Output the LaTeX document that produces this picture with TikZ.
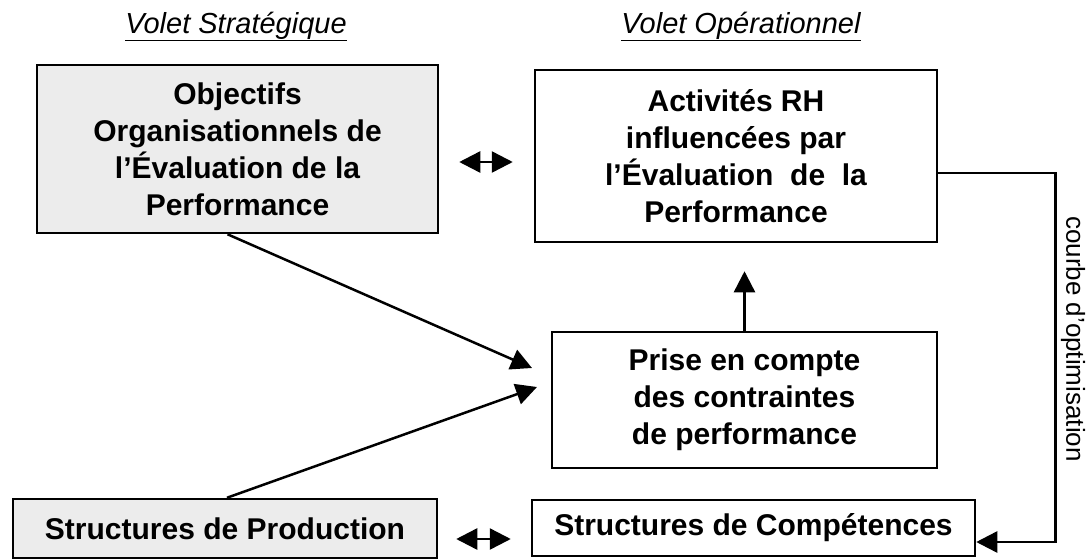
\documentclass[tikz,border=0pt]{standalone}
\usepackage{fontspec}
\setmainfont{Liberation Sans}
\usetikzlibrary{arrows.meta}
\tikzset{
  boite/.style={draw, line width=2.5pt, align=center, inner sep=0pt,
    font=\bfseries\fontsize{30}{37}\selectfont},
  grise/.style={boite, fill=gray!15},
  titre/.style={anchor=base, font=\itshape\fontsize{29}{34}\selectfont},
  fleche/.style={line width=2.5pt, -{Triangle[length=21pt,width=21pt]}},
  deuxsens/.style={line width=2.5pt,
    {Triangle[length=21pt,width=21pt]}-{Triangle[length=21pt,width=21pt]}},
}
\begin{document}
\begin{tikzpicture}[x=1pt,y=-1pt]
      \useasboundingbox (0,0) rectangle (1088,560);
      \draw
        (236,33) node[titre] (vs){\underline{Volet Stratégique}}
        (741,33) node[titre] (vo){\underline{Volet Opérationnel}}
        (237.5,149) node[grise, minimum width=401, minimum height=168] (obj)
          {Objectifs\\Organisationnels de\\l'Évaluation de la\\Performance}
        (736,156) node[boite, minimum width=402, minimum height=172] (act)
          {Activités RH\\influencées par\\l'Évaluation~ de~ la\\Performance}
        (744.5,400) node[boite, minimum width=385, minimum height=136] (prise)
          {Prise en compte\\des contraintes\\de performance}
        (225,528.5) node[grise, minimum width=424, minimum height=59] (prod)
          {Structures de Production}
        (753.5,528) node[boite, minimum width=443, minimum height=56] (comp)
          {Structures de Compétences}
        (1073,339) node[rotate=-90, inner sep=0pt, font=\fontsize{26}{30}\selectfont] (courbe)
          {courbe d'optimisation};
      \coordinate (pointe1) at (532,368);
      \coordinate (pointe2) at (537,387);
      \begin{scope}
        \draw[fleche] ([xshift=-10pt]obj.south) to (pointe1);
        \draw[fleche] ([xshift=2pt]prod.north) to (pointe2);
        \draw[fleche, shorten >=28pt] (prise.north) to (prise.north |- act.south);
        \draw[deuxsens, shorten <=20pt, shorten >=21pt]
          ([yshift=-13pt]obj.east) to ([yshift=-13pt]obj.east -| act.west);
        \draw[deuxsens, shorten <=18pt, shorten >=20pt]
          ([yshift=-10.5pt]prod.east) to ([yshift=-10.5pt]prod.east -| comp.west);
        \draw[fleche] ([yshift=-17pt]act.east) -- ++(117,0) |- ([yshift=-14pt]comp.east);
      \end{scope}
    \end{tikzpicture}
\end{document}
